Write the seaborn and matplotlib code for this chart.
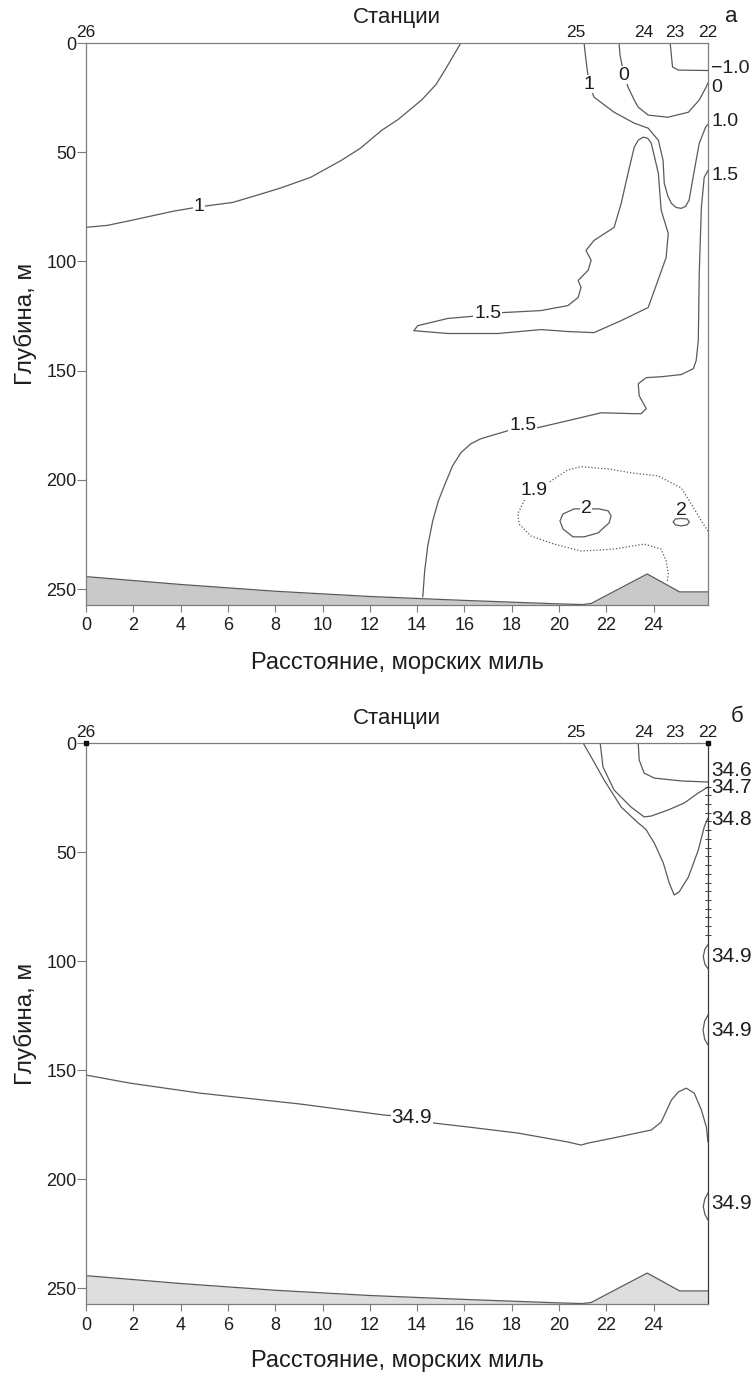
import matplotlib
matplotlib.use("Agg")
import matplotlib.pyplot as plt
import seaborn as sns

# ---------------------------------------------------------------- data
station_names = ["26", "25", "24", "23", "22"]
station_miles = [0.0, 20.7, 23.6, 24.9, 26.3]

distance_ticks = list(range(0, 25, 2))
depth_ticks = [0, 50, 100, 150, 200, 250]

# sea floor along the section
seafloor_miles = [0.0, 4.0, 8.0, 12.0, 16.0, 20.0, 21.0, 21.36, 23.73, 25.1, 26.3]
seafloor_depth = [244.3, 247.9, 251.0, 253.4, 255.2, 256.8, 257.1, 256.6, 243.1, 251.3, 251.3]

# ---- temperature isolines, °C (panel а)
t1_west_x = [0.0, 0.9, 2.0, 3.7, 4.79, 6.2, 6.95, 8.2, 9.5, 10.8, 11.6, 12.5, 13.2, 14.2, 14.8,
             15.2, 15.55, 15.85]
t1_west_d = [84.4, 83.5, 81.0, 77.0, 75.0, 73.0, 70.6, 66.5, 61.5, 53.7, 48.2, 40.0, 35.0, 26.0,
             19.0, 12.0, 5.5, 0.0]

t1_east_x = [21.06, 21.14, 21.27, 21.48, 22.33, 23.18, 23.77, 24.2, 24.4, 24.45, 24.6, 24.75,
             24.95, 25.17, 25.35, 25.5, 25.7, 25.93, 26.2, 26.3]
t1_east_d = [0.0, 7.8, 18.5, 24.8, 31.7, 36.7, 39.0, 44.5, 53.7, 64.2, 70.0, 73.4,
             75.3, 75.7, 74.8, 72.0, 59.6, 45.9, 38.5, 37.2]

t0_x = [22.54, 22.58, 22.75, 22.92, 23.18, 23.35, 23.77, 24.6, 25.47, 25.93, 26.2, 26.3]
t0_d = [0.0, 5.5, 14.7, 20.2, 26.1, 29.4, 33.0, 34.0, 31.7, 26.1, 20.6, 18.3]

tm1_x = [24.7, 24.8, 25.05, 26.3]
tm1_d = [0.0, 11.0, 12.4, 12.6]

t15_tongue_x = [16.99, 17.67, 19.24, 20.38, 20.81, 20.93, 20.81, 21.23, 21.36, 21.14, 21.48, 22.33,
                22.63, 22.92, 23.18, 23.35, 23.56, 23.75, 23.9, 24.2, 24.32, 24.62, 24.53, 24.03,
                23.77, 22.63, 21.48, 20.38, 19.24, 17.42, 15.3, 13.86, 14.03, 15.3, 16.27, 16.99]
t15_tongue_d = [124.0, 123.4, 122.5, 120.2, 116.5, 111.9, 108.7, 104.1, 99.5, 95.0, 90.4, 84.4,
                73.4, 59.6, 47.7, 44.5, 43.1, 43.6, 45.9, 59.6, 76.6, 87.2, 98.2, 113.3,
                121.1, 127.1, 132.6, 132.1, 131.2, 133.0, 133.0, 131.7, 129.4, 126.1, 125.2, 124.0]

t15_deep_x = [26.3, 26.14, 26.02, 25.93, 25.89, 25.8, 25.68, 25.17, 24.32, 23.69, 23.35, 23.39,
              23.69, 23.47, 23.18, 21.78, 20.38, 19.11, 18.47, 17.84, 16.69, 16.27, 15.85, 15.5,
              15.2, 14.9, 14.66, 14.45, 14.32, 14.24]
t15_deep_d = [58.3, 61.5, 75.2, 105.5, 136.2, 145.4, 149.1, 151.8, 152.8, 153.2, 156.0, 161.5,
              167.4, 169.7, 169.7, 169.3, 172.9, 176.1, 175.2, 177.5, 181.2, 183.5, 187.6, 193.6,
              201.4, 209.6, 218.8, 230.3, 241.7, 253.6]

t19_x = [26.3, 26.02, 25.59, 25.17, 24.19, 23.05, 22.08, 20.93, 20.38, 19.66, 18.94, 18.52,
         18.26, 18.31, 18.81, 19.79, 20.93, 22.33, 23.6, 24.32, 24.53, 24.62, 24.58]
t19_d = [223.5, 218.8, 211.0, 203.7, 198.2, 196.8, 195.0, 194.0, 195.4, 200.5, 205.0, 209.6,
         215.6, 220.2, 225.7, 229.4, 232.6, 231.7, 229.4, 231.7, 237.2, 243.1, 246.3]

t2_core_x = [21.14, 20.64, 20.17, 20.04, 20.17, 20.59, 21.06, 21.65, 22.12, 22.2, 22.08, 21.69, 21.14]
t2_core_d = [213.3, 213.3, 215.6, 218.8, 222.5, 226.1, 226.1, 224.3, 219.7, 216.5, 214.2, 213.3, 213.3]

t2_small_x = [24.83, 24.92, 25.17, 25.42, 25.51, 25.42, 25.17, 24.92, 24.83]
t2_small_d = [219.3, 217.9, 217.7, 217.9, 219.3, 220.6, 221.1, 220.6, 219.3]

temp_inline_labels = [("1", 4.79, 75.0), ("1", 21.27, 18.8), ("0", 22.75, 14.7),
                      ("1.5", 16.99, 124.0), ("1.5", 18.47, 175.2), ("1.9", 18.94, 205.0),
                      ("2", 21.14, 213.3)]
temp_small_label = ("2", 25.17, 214.0)
temp_edge_labels = [("\u22121.0", 11.9), ("0", 20.6), ("1.0", 35.8), ("1.5", 60.6)]

# ---- salinity isolines, psu (panel б)
s346_x = [23.35, 23.39, 23.6, 24.03, 25.17, 26.3]
s346_d = [0.0, 7.8, 13.8, 16.1, 17.4, 17.9]

s347_x = [21.74, 21.86, 22.33, 23.05, 23.6, 23.9, 24.62, 25.3, 25.89, 26.3]
s347_d = [0.0, 11.0, 21.6, 29.4, 33.9, 33.5, 30.7, 27.5, 22.9, 20.2]

s348_x = [21.02, 21.36, 21.91, 22.63, 23.35, 23.56, 23.69, 24.03, 24.41, 24.66, 24.87, 25.08,
          25.47, 25.89, 26.14, 26.3]
s348_d = [0.0, 6.4, 17.0, 29.4, 36.7, 38.5, 39.9, 45.9, 55.0, 64.2, 69.7, 68.3,
          61.5, 49.1, 38.5, 34.4]

s349_x = [0.0, 1.86, 4.83, 9.07, 12.58, 13.77, 14.7, 16.14, 18.26, 20.38, 20.93, 21.23, 22.5,
          23.9, 24.32, 24.75, 25.04, 25.38, 25.72, 26.02, 26.23, 26.3]
s349_d = [152.3, 156.0, 160.6, 165.6, 170.6, 171.6, 174.3, 176.1, 178.9, 183.0, 184.4, 183.5, 180.7,
          177.5, 173.9, 163.8, 160.1, 158.3, 160.6, 168.3, 176.1, 183.0]

s349_lens1_x = [26.3, 26.17, 26.1, 26.17, 26.3]
s349_lens1_d = [92.5, 94.5, 98.0, 101.5, 103.5]
s349_lens2_x = [26.3, 26.16, 26.09, 26.16, 26.3]
s349_lens2_d = [124.8, 127.5, 131.7, 135.9, 138.5]
s349_lens3_x = [26.3, 26.17, 26.1, 26.17, 26.3]
s349_lens3_d = [206.4, 209.0, 212.6, 216.2, 218.8]

sal_inline_labels = [("34.9", 13.77, 171.6)]
sal_edge_labels = [("34.6", 12.8), ("34.7", 20.6), ("34.8", 34.9),
                   ("34.9", 98.0), ("34.9", 131.7), ("34.9", 211.0)]

# CTD sample depths at station 22
ctd22_depth = list(range(20, 89, 4))

# ---------------------------------------------------------------- style
sns.set_theme(style="white")
plt.rcParams["font.family"] = ["Liberation Sans", "DejaVu Sans"]
plt.rcParams["axes.unicode_minus"] = True

LINE = "#5a5a5a"
SPINE = "#7d7d7d"
TEXT = "#1e1e1e"
XMAX = 26.3
YMAX = 257.3

fig = plt.figure(figsize=(7.55, 13.78), dpi=100)
W, H = 755.0, 1378.0
ax_a = fig.add_axes([86 / W, 1 - 605 / H, 622 / W, 562 / H])
ax_b = fig.add_axes([86 / W, 1 - 1304 / H, 622 / W, 561 / H])


def isoline(ax, xs, ds, **kw):
    style = dict(color=LINE, linewidth=0.9)
    style.update(kw)
    sns.lineplot(x=xs, y=ds, sort=False, estimator=None, ax=ax, legend=False, **style)


def frame(ax, floor_color):
    ax.fill_between(seafloor_miles, seafloor_depth, YMAX + 5, color=floor_color,
                    linewidth=0, zorder=1)
    ax.plot(seafloor_miles, seafloor_depth, color=LINE, linewidth=0.9, zorder=2)
    ax.set_xlim(0, XMAX)
    ax.set_ylim(YMAX, 0)
    ax.set_xticks(distance_ticks)
    ax.set_xticklabels([str(t) for t in distance_ticks])
    ax.set_yticks(depth_ticks)
    ax.set_yticklabels([str(t) for t in depth_ticks])
    ax.set_xlabel("")
    ax.set_ylabel("")
    for sp in ax.spines.values():
        sp.set_visible(True)
        sp.set_color(SPINE)
        sp.set_linewidth(0.9)
    ax.tick_params(axis="y", direction="out", length=6.2, width=0.8, color=SPINE,
                   labelsize=13, labelcolor=TEXT, pad=0.5, left=True)
    ax.tick_params(axis="x", direction="out", length=5, width=0.8, color=SPINE,
                   labelsize=13, labelcolor=TEXT, pad=4, bottom=True)
    for name, m in zip(station_names, station_miles):
        ax.annotate(name, xy=(m, 0), xycoords="data", xytext=(0, 2.5),
                    textcoords="offset points", ha="center", va="bottom",
                    fontsize=12.5, color=TEXT, annotation_clip=False)


def edge_labels(ax, labels, size):
    for s, d in labels:
        ax.annotate(s, xy=(1.0, d), xycoords=ax.get_yaxis_transform(), xytext=(2.5, 0),
                    textcoords="offset points", ha="left", va="center",
                    fontsize=size, color=TEXT, annotation_clip=False)


def inline_labels(ax, labels, size):
    for s, m, d in labels:
        ax.text(m, d, s, ha="center", va="center", fontsize=size, color=TEXT, zorder=5,
                bbox=dict(facecolor="white", edgecolor="none", pad=0.6))


# ---- panel а: temperature
frame(ax_a, "#c9c9c9")
for xs, ds in [(t1_west_x, t1_west_d), (t1_east_x, t1_east_d), (t0_x, t0_d), (tm1_x, tm1_d),
               (t15_tongue_x, t15_tongue_d), (t15_deep_x, t15_deep_d),
               (t2_core_x, t2_core_d), (t2_small_x, t2_small_d)]:
    isoline(ax_a, xs, ds)
isoline(ax_a, t19_x, t19_d, linestyle=(0, (1, 1.6)), linewidth=0.9)
inline_labels(ax_a, temp_inline_labels, 14)
ax_a.text(temp_small_label[1], temp_small_label[2], temp_small_label[0], ha="center",
          va="center", fontsize=14, color=TEXT, zorder=5)
edge_labels(ax_a, temp_edge_labels, 14)
ax_a.set_xlim(0, XMAX)
ax_a.set_ylim(YMAX, 0)

# ---- panel б: salinity
frame(ax_b, "#dedede")
for xs, ds in [(s346_x, s346_d), (s347_x, s347_d), (s348_x, s348_d), (s349_x, s349_d),
               (s349_lens1_x, s349_lens1_d), (s349_lens2_x, s349_lens2_d),
               (s349_lens3_x, s349_lens3_d)]:
    isoline(ax_b, xs, ds)
inline_labels(ax_b, sal_inline_labels, 15)
edge_labels(ax_b, sal_edge_labels, 15)
ax_b.spines["right"].set_color("#3a3a3a")
ax_b.plot([XMAX] * len(ctd22_depth), ctd22_depth, linestyle="none", marker="_",
          markersize=4, markeredgewidth=0.7, color="#3a3a3a", clip_on=False, zorder=4)
ax_b.plot([0, XMAX], [0, 0], linestyle="none", marker="s", markersize=2.5,
          color="#111111", clip_on=False, zorder=6)
ax_b.set_xlim(0, XMAX)
ax_b.set_ylim(YMAX, 0)

# ---- shared texts
for top_px, letter, letter_xy in [(18, "а", (731, 16)), (718, "б", (737, 716))]:
    fig.text(397 / W, 1 - top_px / H, "Станции", ha="center", va="center",
             fontsize=16, color=TEXT)
    fig.text(letter_xy[0] / W, 1 - letter_xy[1] / H, letter, ha="center", va="center",
             fontsize=16, color=TEXT)

for center_px in [(43 + 605) / 2, (743 + 1304) / 2]:
    fig.text(25 / W, 1 - center_px / H, "Глубина, м", rotation=90, ha="center",
             va="center", fontsize=17.5, color=TEXT)

for y_px in [663, 1361]:
    fig.text(397 / W, 1 - y_px / H, "Расстояние, морских миль", ha="center",
             va="center", fontsize=17, color=TEXT)

fig.savefig("out.png", dpi=100, facecolor="white")
